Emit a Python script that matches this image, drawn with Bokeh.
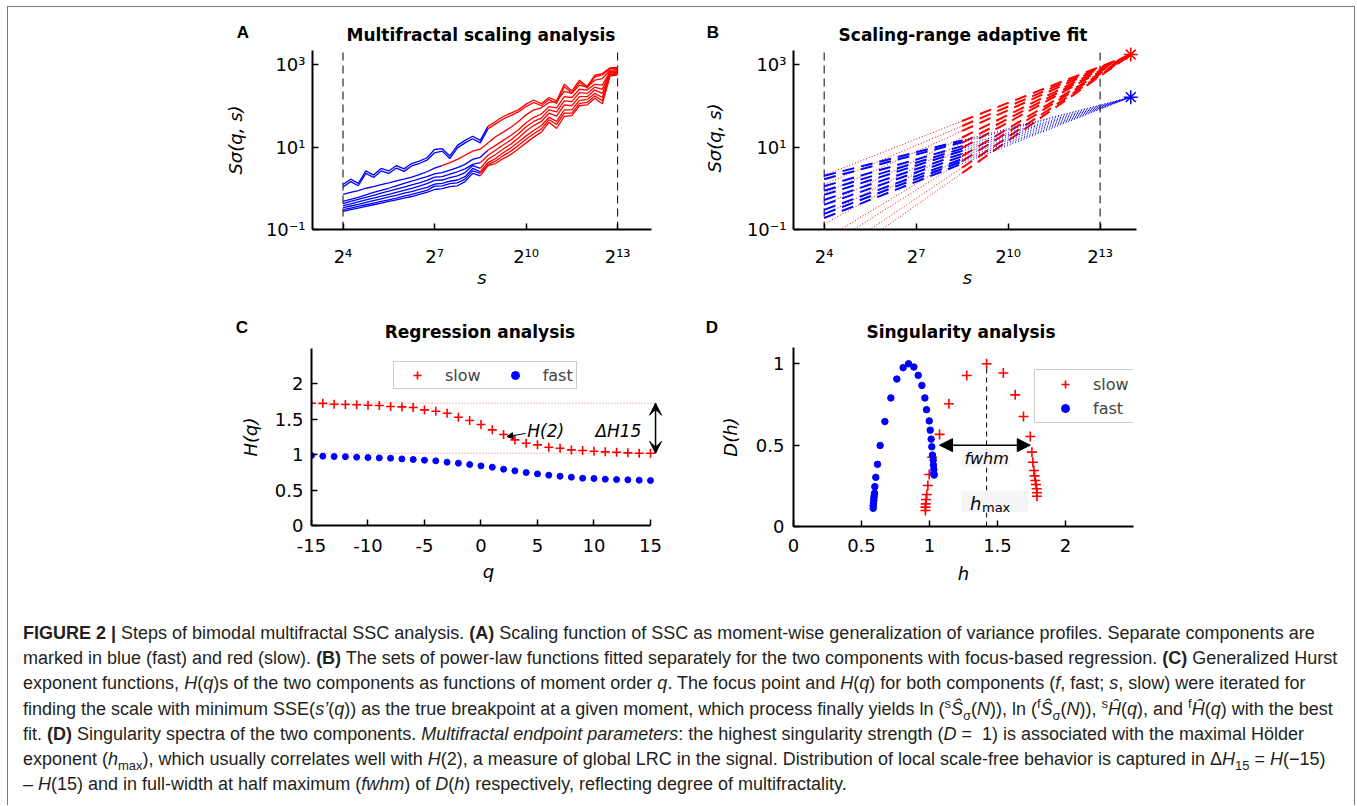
import numpy as np
from bokeh.plotting import figure
from bokeh.layouts import row, column
from bokeh.models import (Label, Arrow, NormalHead, VeeHead, FixedTicker,
                          CustomJSTickFormatter, Legend, LegendItem, BoxAnnotation, Div)
from bokeh.embed import file_html
from bokeh.resources import INLINE

RED = "#ff0000"
BLUE = "#0000ff"
FONT = "DejaVu Sans"

# ---------------- Panel A data: log10 S_sigma(q, s) per moment order ----------------
A_log2s = [4.0, 4.25, 4.5, 4.75, 5.0, 5.25, 5.5, 5.75, 6.0, 6.25, 6.5, 6.75, 7.0, 7.25,
           7.5, 7.75, 8.0, 8.25, 8.5, 8.75, 9.0, 9.25, 9.5, 9.75, 10.0, 10.25, 10.5,
           10.75, 11.0, 11.25, 11.5, 11.75, 12.0, 12.25, 12.5, 12.75, 13.0]
A_q1 = [0.09, 0.22, 0.12, 0.42, 0.32, 0.48, 0.42, 0.55, 0.47, 0.60, 0.66, 0.74, 0.94, 0.96,
        0.78, 1.04, 1.16, 1.26, 1.16, 1.50, 1.62, 1.74, 1.82, 1.90, 2.04, 2.14, 2.05, 2.20,
        2.12, 2.52, 2.36, 2.62, 2.47, 2.74, 2.78, 2.92, 2.93]
A_q2 = [0.03, 0.16, 0.06, 0.36, 0.26, 0.42, 0.36, 0.49, 0.41, 0.54, 0.60, 0.68, 0.86, 0.90,
        0.72, 0.98, 1.10, 1.20, 1.10, 1.44, 1.56, 1.68, 1.76, 1.85, 1.98, 2.08, 2.00, 2.15,
        2.06, 2.46, 2.31, 2.57, 2.43, 2.70, 2.75, 2.90, 2.91]
A_q3 = [-0.15, -0.10, -0.06, 0.00, 0.04, 0.09, 0.13, 0.18, 0.22, 0.27, 0.33, 0.40, 0.49, 0.55,
        0.62, 0.70, 0.80, 0.90, 0.95, 1.10, 1.25, 1.36, 1.48, 1.62, 1.78, 1.90, 1.95, 2.08,
        2.10, 2.35, 2.30, 2.50, 2.45, 2.62, 2.66, 2.86, 2.88]
A_q4 = [-0.32, -0.27, -0.22, -0.16, -0.10, -0.05, 0.00, 0.06, 0.12, 0.17, 0.23, 0.28, 0.35, 0.38,
        0.44, 0.50, 0.58, 0.70, 0.75, 0.92, 1.04, 1.16, 1.28, 1.42, 1.59, 1.72, 1.80, 1.98,
        1.95, 2.22, 2.20, 2.40, 2.38, 2.52, 2.50, 2.83, 2.85]
A_q5 = [-0.37, -0.32, -0.27, -0.22, -0.17, -0.12, -0.07, -0.02, 0.03, 0.08, 0.13, 0.19, 0.27, 0.28,
        0.34, 0.40, 0.47, 0.58, 0.62, 0.80, 0.92, 1.05, 1.17, 1.32, 1.49, 1.62, 1.70, 1.90,
        1.85, 2.12, 2.10, 2.32, 2.30, 2.45, 2.40, 2.81, 2.83]
A_q6 = [-0.42, -0.38, -0.33, -0.28, -0.24, -0.19, -0.15, -0.10, -0.05, 0.00, 0.05, 0.11, 0.19, 0.20,
        0.26, 0.30, 0.38, 0.55, 0.48, 0.70, 0.82, 0.95, 1.07, 1.22, 1.39, 1.52, 1.62, 1.82,
        1.75, 2.02, 2.00, 2.22, 2.22, 2.38, 2.30, 2.79, 2.81]
A_q7 = [-0.47, -0.43, -0.39, -0.34, -0.30, -0.26, -0.21, -0.17, -0.12, -0.08, -0.03, 0.02, 0.10, 0.12,
        0.17, 0.20, 0.28, 0.48, 0.40, 0.62, 0.72, 0.86, 0.98, 1.12, 1.27, 1.40, 1.52, 1.72,
        1.62, 1.90, 1.90, 2.13, 2.15, 2.30, 2.20, 2.76, 2.79]
A_q8 = [-0.52, -0.48, -0.44, -0.40, -0.36, -0.32, -0.28, -0.24, -0.19, -0.15, -0.10, -0.05, 0.05, 0.06,
        0.11, 0.13, 0.22, 0.42, 0.36, 0.58, 0.66, 0.79, 0.90, 1.04, 1.19, 1.32, 1.44, 1.66,
        1.55, 1.82, 1.82, 2.06, 2.08, 2.24, 2.12, 2.74, 2.77]
A_q9 = [-0.56, -0.52, -0.48, -0.44, -0.40, -0.36, -0.32, -0.28, -0.24, -0.20, -0.15, -0.10, -0.03, -0.01,
        0.04, 0.06, 0.16, 0.36, 0.30, 0.55, 0.60, 0.72, 0.82, 0.96, 1.10, 1.24, 1.36, 1.60,
        1.45, 1.74, 1.76, 2.00, 2.02, 2.18, 2.05, 2.72, 2.75]
A_break_log2 = [8.75, 8.75, 7.25, 8.75, 8.5, 8.5, 8.5, 8.5, 8.5]   # fast (blue) -> slow (red)
A_scale_limits = [16, 8192]

# ---------------- Panel B data ----------------
B_focus_s = 16384
B_fast_focus = 162.0
B_slow_focus = 1740.0
B_break_s = 2 ** 8.5
B_fast_at_16 = [2.0, 1.66, 1.12, 0.87, 0.69, 0.52, 0.40, 0.30, 0.24, 0.19]
B_slow_at_break = [42.7, 32.4, 24.5, 17.0, 12.6, 9.55, 6.0, 4.57, 3.16, 2.34]

# ---------------- Panel C data ----------------
C_q = list(range(-15, 16))
C_H_slow = [1.727, 1.725, 1.713, 1.708, 1.706, 1.699, 1.694, 1.680, 1.675, 1.666, 1.633, 1.614,
            1.586, 1.529, 1.482, 1.426, 1.351, 1.285, 1.209, 1.162, 1.139, 1.106, 1.092, 1.068,
            1.059, 1.049, 1.040, 1.035, 1.026, 1.021, 1.021]
C_H_fast = [0.988, 0.979, 0.974, 0.972, 0.965, 0.960, 0.955, 0.951, 0.941, 0.932, 0.922, 0.913,
            0.894, 0.880, 0.861, 0.842, 0.824, 0.795, 0.772, 0.748, 0.729, 0.711, 0.696, 0.682,
            0.668, 0.664, 0.654, 0.649, 0.645, 0.640, 0.635]
C_H2 = (2, 1.285)

# ---------------- Panel D data ----------------
D_h_fast = [0.586, 0.586, 0.588, 0.591, 0.591, 0.593, 0.596, 0.598, 0.605, 0.618, 0.637, 0.672,
            0.716, 0.760, 0.806, 0.846, 0.885, 0.917, 0.944, 0.966, 0.978, 0.998, 1.005, 1.012,
            1.017, 1.022, 1.027, 1.029, 1.032, 1.032, 1.034]
D_D_fast = [0.112, 0.129, 0.143, 0.159, 0.173, 0.188, 0.204, 0.245, 0.302, 0.382, 0.498, 0.645,
            0.790, 0.906, 0.976, 1.000, 0.980, 0.929, 0.867, 0.790, 0.718, 0.649, 0.592, 0.537,
            0.490, 0.439, 0.408, 0.378, 0.351, 0.327, 0.316]
D_h_slow = [0.970, 0.970, 0.972, 0.975, 0.980, 0.988, 0.998, 1.020, 1.074, 1.143, 1.274, 1.420,
            1.543, 1.630, 1.691, 1.741, 1.753, 1.760, 1.768, 1.773, 1.778, 1.783, 1.788, 1.790, 1.790]
D_D_slow = [0.098, 0.119, 0.139, 0.166, 0.197, 0.252, 0.320, 0.426, 0.566, 0.754, 0.928, 1.000,
            0.943, 0.809, 0.676, 0.553, 0.457, 0.395, 0.344, 0.311, 0.283, 0.258, 0.232, 0.207, 0.186]
D_hmax = 1.42
D_fwhm = [1.074, 1.741]


# ---------------- helpers ----------------
def style(p, xlabel, ylabel, xstand=14, ystand=7, xlab_stand=4, ylab_stand=12):
    p.outline_line_color = None
    p.xgrid.visible = False
    p.ygrid.visible = False
    p.background_fill_color = "white"
    p.border_fill_color = "white"
    for ax in p.axis:
        ax.axis_line_width = 2
        ax.axis_line_color = "black"
        ax.major_tick_in = 6
        ax.major_tick_out = 0
        ax.major_tick_line_width = 1.5
        ax.major_tick_line_color = "black"
        ax.minor_tick_line_color = None
        ax.major_label_text_font = FONT
        ax.major_label_text_font_size = "18px"
        ax.major_label_text_color = "black"
        ax.axis_label_text_font = FONT
        ax.axis_label_text_font_size = "18px"
        ax.axis_label_text_font_style = "italic"
        ax.axis_label_text_color = "black"
    p.xaxis.major_label_standoff = xstand
    p.yaxis.major_label_standoff = ystand
    p.xaxis.axis_label = xlabel
    p.yaxis.axis_label = ylabel
    p.xaxis.axis_label_standoff = xlab_stand
    p.yaxis.axis_label_standoff = ylab_stand


def lab(p, x, y, text, size=17, fstyle="normal", align="center"):
    p.add_layout(Label(x=x, y=y, text=text, text_font=FONT, text_font_size=f"{size}px",
                       text_font_style=fstyle, text_align=align, text_baseline="middle",
                       text_color="black"))


def header(width, height, letter, lxy, title, txy):
    lx, ly = lxy
    tx, ty = txy
    html = (f'<div style="position:relative;width:{width}px;height:{height}px;overflow:visible;">'
            f'<div style="position:absolute;left:{lx - 30}px;width:60px;top:{ly - 12}px;height:24px;'
            f'line-height:24px;text-align:center;font-family:\'Liberation Sans\',Arial,sans-serif;'
            f'font-weight:bold;font-size:17px;color:#000;">{letter}</div>'
            f'<div style="position:absolute;left:{tx - 200}px;width:400px;top:{ty - 12}px;height:24px;'
            f'line-height:24px;text-align:center;font-family:\'DejaVu Sans\',sans-serif;'
            f'font-weight:bold;font-size:17px;color:#000;white-space:nowrap;">{title}</div></div>')
    return Div(text=html, width=width, height=height, margin=0)


SUP_JS = 'const sup={"0":"⁰","1":"¹","2":"²","3":"³","4":"⁴","5":"⁵","6":"⁶","7":"⁷","8":"⁸","9":"⁹","-":"⁻"};'
pow2_fmt = CustomJSTickFormatter(code=SUP_JS + 'const e=Math.round(Math.log(tick)/Math.LN2);'
                                 'return "2"+String(e).split("").map(c=>sup[c]).join("");')
pow10_fmt = CustomJSTickFormatter(code=SUP_JS + 'const e=Math.round(Math.log(tick)/Math.LN10);'
                                  'return "10"+String(e).split("").map(c=>sup[c]).join("");')
plain_fmt = CustomJSTickFormatter(code='return tick.toString();')

# ---------------- Panel A ----------------
pA = figure(width=682, height=246, x_axis_type="log", y_axis_type="log",
            x_range=(8, 2 ** 14.11), y_range=(0.1, 10 ** 3.34),
            min_border_left=304, min_border_right=39, min_border_top=0, min_border_bottom=67,
            output_backend="svg", toolbar_location=None)
style(pA, "s", "Sσ(q, s)", xstand=16, ylab_stand=17, xlab_stand=-3)
pA.xaxis.ticker = FixedTicker(ticks=[16, 128, 1024, 8192])
pA.xaxis.formatter = pow2_fmt
pA.yaxis.ticker = FixedTicker(ticks=[0.1, 10, 1000])
pA.yaxis.formatter = pow10_fmt
pA.segment(x0=A_scale_limits, y0=[0.1, 0.1], x1=A_scale_limits, y1=[10 ** 3.34] * 2,
           line_color="black", line_width=1, line_dash="8 5")
s_grid = [2 ** g for g in A_log2s]
for line, br in zip([A_q1, A_q2, A_q3, A_q4, A_q5, A_q6, A_q7, A_q8, A_q9], A_break_log2):
    xb = [s for s, g in zip(s_grid, A_log2s) if g <= br]
    yb = [10 ** v for v, g in zip(line, A_log2s) if g <= br]
    xr = [s for s, g in zip(s_grid, A_log2s) if g >= br]
    yr = [10 ** v for v, g in zip(line, A_log2s) if g >= br]
    pA.line(xb, yb, line_color=BLUE, line_width=1.3)
    pA.line(xr, yr, line_color=RED, line_width=1.3)
hA = header(682, 43, "A", (235, 26), "Multifractal scaling analysis", (473, 28))

# ---------------- Panel B ----------------
pB = figure(width=664, height=250, x_axis_type="log", y_axis_type="log",
            x_range=(8, 2 ** 14.35), y_range=(0.1, 10 ** 3.437),
            min_border_left=103, min_border_right=213, min_border_top=0, min_border_bottom=67,
            output_backend="svg", toolbar_location=None)
style(pB, "s", "Sσ(q, s)", xstand=16, ylab_stand=19, xlab_stand=-3)
pB.xaxis.ticker = FixedTicker(ticks=[16, 128, 1024, 8192])
pB.xaxis.formatter = pow2_fmt
pB.yaxis.ticker = FixedTicker(ticks=[0.1, 10, 1000])
pB.yaxis.formatter = pow10_fmt
pB.xaxis.bounds = (8, 2 ** 14.2)
pB.yaxis.bounds = (0.1, 10 ** 3.34)
pB.segment(x0=A_scale_limits, y0=[0.1, 0.1], x1=A_scale_limits, y1=[10 ** 3.34] * 2,
           line_color="black", line_width=1, line_dash="8 5")
for rb in B_slow_at_break:
    k = np.log(B_slow_focus / rb) / np.log(B_focus_s / B_break_s)
    y16 = rb * (16 / B_break_s) ** k
    pB.line([16, B_break_s], [y16, rb], line_color=RED, line_width=1, line_dash="1 2")
    pB.line([B_break_s, B_focus_s], [rb, B_slow_focus], line_color=RED, line_width=2, line_dash="12 7")
for f16 in B_fast_at_16:
    k = np.log(B_fast_focus / f16) / np.log(B_focus_s / 16)
    yb = f16 * (B_break_s / 16) ** k
    pB.line([16, B_break_s], [f16, yb], line_color=BLUE, line_width=2, line_dash="12 7")
    pB.line([B_break_s, B_focus_s], [yb, B_fast_focus], line_color=BLUE, line_width=1, line_dash="1 2")
pB.scatter([B_focus_s], [B_slow_focus], marker="asterisk", size=14, line_color=RED, line_width=1.5)
pB.scatter([B_focus_s], [B_fast_focus], marker="asterisk", size=14, line_color=BLUE, line_width=1.5)
hB = header(664, 39, "B", (23, 26), "Scaling-range adaptive fit", (273, 28))

# ---------------- Panel C ----------------
pC = figure(width=682, height=242, x_range=(-15, 16.33), y_range=(0, 2.5),
            min_border_left=303, min_border_right=25, min_border_top=0, min_border_bottom=65,
            output_backend="svg", toolbar_location=None)
style(pC, "q", "H(q)", xstand=13, ystand=8, ylab_stand=11, xlab_stand=6)
pC.xaxis.ticker = FixedTicker(ticks=[-15, -10, -5, 0, 5, 10, 15])
pC.xaxis.formatter = plain_fmt
pC.xaxis.bounds = (-15, 15)
pC.yaxis.ticker = FixedTicker(ticks=[0, 0.5, 1, 1.5, 2])
pC.yaxis.formatter = plain_fmt
pC.segment(x0=[C_q[0], C_q[0]], y0=[C_H_slow[0], C_H_slow[-1]],
           x1=[C_q[-1] + 0.4, C_q[-1] + 0.4], y1=[C_H_slow[0], C_H_slow[-1]],
           line_color="#ff7070", line_width=1, line_dash="1 2")
rCs = pC.scatter(C_q, C_H_slow, marker="cross", size=9, line_color=RED, line_width=1.6)
rCf = pC.scatter(C_q, C_H_fast, marker="circle", size=6, fill_color=BLUE, line_color=BLUE)
pC.add_layout(Arrow(x_start=C_q[-1] + 0.45, y_start=C_H_slow[-1] + 0.12,
                    x_end=C_q[-1] + 0.45, y_end=C_H_slow[-1],
                    end=VeeHead(size=12, fill_color="black", line_color="black"),
                    line_color="black", line_width=1.5))
pC.add_layout(Arrow(x_start=C_q[-1] + 0.45, y_start=C_H_slow[0] - 0.12,
                    x_end=C_q[-1] + 0.45, y_end=C_H_slow[0],
                    end=VeeHead(size=12, fill_color="black", line_color="black"),
                    line_color="black", line_width=1.5))
pC.segment(x0=[C_q[-1] + 0.45], y0=[C_H_slow[-1]], x1=[C_q[-1] + 0.45], y1=[C_H_slow[0]],
           line_color="black", line_width=1.5)
pC.add_layout(Arrow(x_start=3.95, y_start=1.30, x_end=C_H2[0] + 0.3, y_end=C_H2[1] - 0.03,
                    end=NormalHead(size=6, fill_color="black", line_color="black"),
                    line_color="black", line_width=1))
lab(pC, 4.1, 1.33, "H(2)", size=17, fstyle="italic", align="left")
lab(pC, 14.2, 1.34, "ΔH15", size=17, fstyle="italic", align="right")
legC = Legend(items=[LegendItem(label="slow", renderers=[rCs]),
                     LegendItem(label="fast", renderers=[rCf])],
              location=(82, 136), orientation="horizontal", padding=3, spacing=14,
              glyph_width=40, glyph_height=20, label_standoff=8, label_height=20, margin=0,
              label_text_font=FONT, label_text_font_size="16px",
              border_line_color="#9a9a9a", border_line_width=1, background_fill_alpha=1)
pC.add_layout(legC)
hC = header(682, 52, "C", (234, 32), "Regression analysis", (472, 36))

# ---------------- Panel D ----------------
pD = figure(width=664, height=243, x_range=(0, 2.5), y_range=(0, 1.1),
            min_border_left=103, min_border_right=221, min_border_top=0, min_border_bottom=64,
            output_backend="svg", toolbar_location=None)
style(pD, "h", "D(h)", xstand=12, ystand=9, ylab_stand=12, xlab_stand=8)
pD.xaxis.ticker = FixedTicker(ticks=[0, 0.5, 1, 1.5, 2])
pD.xaxis.formatter = plain_fmt
pD.yaxis.ticker = FixedTicker(ticks=[0, 0.5, 1])
pD.yaxis.formatter = plain_fmt
pD.segment(x0=[D_hmax], y0=[0], x1=[D_hmax], y1=[1], line_color="black", line_width=1,
           line_dash="5 4")
rDs = pD.scatter(D_h_slow, D_D_slow, marker="cross", size=10, line_color=RED, line_width=1.6)
rDf = pD.scatter(D_h_fast, D_D_fast, marker="circle", size=6.5, fill_color=BLUE, line_color=BLUE)
pD.add_layout(BoxAnnotation(left=1.237, right=1.589, bottom=0.364, top=0.471,
                            fill_color="#f5f5f5", fill_alpha=1, line_color=None))
pD.add_layout(BoxAnnotation(left=1.237, right=1.725, bottom=0.088, top=0.221,
                            fill_color="#f5f5f5", fill_alpha=1, line_color=None))
pD.add_layout(Arrow(x_start=D_fwhm[0], y_start=0.5, x_end=D_fwhm[1], y_end=0.5,
                    start=NormalHead(size=13, fill_color="black", line_color="black"),
                    end=NormalHead(size=13, fill_color="black", line_color="black"),
                    line_color="black", line_width=1.5))
lab(pD, D_hmax, 0.416, "fwhm", size=16, fstyle="italic")
lab(pD, 1.34, 0.143, "h", size=18, fstyle="italic")
lab(pD, 1.49, 0.119, "max", size=13)
legD = Legend(items=[LegendItem(label="slow", renderers=[rDs]),
                     LegendItem(label="fast", renderers=[rDf])],
              location=(241, 103), orientation="vertical", padding=4, spacing=4,
              glyph_width=52, glyph_height=20, label_standoff=2, label_height=20, margin=0,
              label_text_font=FONT, label_text_font_size="16px",
              border_line_color="#9a9a9a", border_line_width=1, background_fill_alpha=1)
pD.add_layout(legD)
hD = header(664, 51, "D", (22, 32), "Singularity analysis", (271, 36))

# ---------------- Caption ----------------
cap_lines = [
    '<b>FIGURE 2 |</b> Steps of bimodal multifractal SSC analysis. <b>(A)</b> Scaling function of SSC as moment-wise generalization of variance profiles. Separate components are',
    'marked in blue (fast) and red (slow). <b>(B)</b> The sets of power-law functions fitted separately for the two components with focus-based regression. <b>(C)</b> Generalized Hurst',
    'exponent functions, <i>H</i>(<i>q</i>)s of the two components as functions of moment order <i>q</i>. The focus point and <i>H</i>(<i>q</i>) for both components (<i>f</i>, fast; <i>s</i>, slow) were iterated for',
    'finding the scale with minimum SSE(<i>s’</i>(<i>q</i>)) as the true breakpoint at a given moment, which process finally yields ln (<sup>s</sup><i>Ŝ</i><sub>σ</sub>(<i>N</i>)), ln (<sup>f</sup><i>Ŝ</i><sub>σ</sub>(<i>N</i>)), <sup>s</sup><i>Ĥ</i>(<i>q</i>), and <sup>f</sup><i>Ĥ</i>(<i>q</i>) with the best',
    'fit. <b>(D)</b> Singularity spectra of the two components. <i>Multifractal endpoint parameters</i>: the highest singularity strength (<i>D</i> =&nbsp; 1) is associated with the maximal Hölder',
    'exponent (<i>h</i><sub>max</sub>), which usually correlates well with <i>H</i>(2), a measure of global LRC in the signal. Distribution of local scale-free behavior is captured in Δ<i>H</i><sub>15</sub> = <i>H</i>(−15)',
    '– <i>H</i>(15) and in full-width at half maximum (<i>fwhm</i>) of <i>D</i>(<i>h</i>) respectively, reflecting degree of multifractality.',
]
cap_html = ('<style>sup,sub{font-size:72%;line-height:0;}</style>'
            '<div style="font-family:\'Liberation Sans\',Arial,sans-serif;font-size:18px;'
            'line-height:25.2px;color:#231f20;padding:31px 0 0 15px;white-space:nowrap;">'
            + ''.join(f'<div>{ln}</div>' for ln in cap_lines) + '</div>')
cap = Div(text=cap_html, width=1346, height=215, margin=0)

layout = column(row(column(hA, pA), column(hB, pB)),
                row(column(hC, pC), column(hD, pD)),
                cap, margin=(6, 0, 0, 7),
                styles={"border-top": "1px solid #7a7a7a", "border-left": "1px solid #7a7a7a",
                        "border-right": "1px solid #7a7a7a"})

with open("out.html", "w", encoding="utf-8") as f:
    f.write(file_html(layout, INLINE))
